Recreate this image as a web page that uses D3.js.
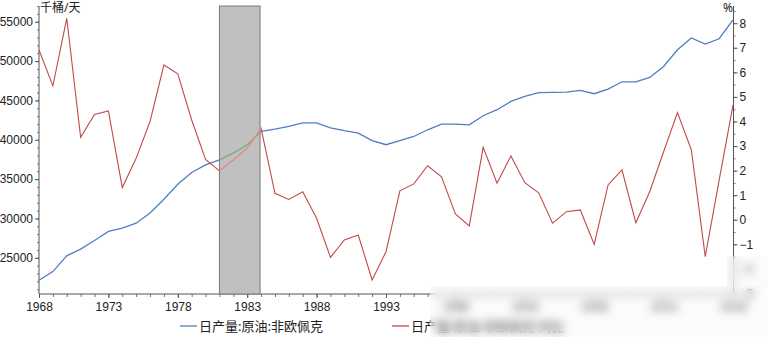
<!DOCTYPE html>
<html><head><meta charset="utf-8">
<script src="https://cdn.jsdelivr.net/npm/d3@7/dist/d3.min.js"></script>
<style>
html,body{margin:0;padding:0;background:#fff;}
#wrap{position:relative;width:768px;height:337px;overflow:hidden;}
svg{display:block;font-family:"Noto Sans","Noto Sans CJK SC",sans-serif;}
.blur{position:absolute;backdrop-filter:blur(5px);-webkit-backdrop-filter:blur(5px);background:rgba(240,240,240,0.2);}
</style></head>
<body><div id="wrap"><svg id="c" width="768" height="337"></svg>
<div class="blur" style="left:430px;top:286px;width:338px;height:51px;"></div>
<div class="blur" style="left:727px;top:256px;width:41px;height:32px;"></div>
</div>
<script>
const years = d3.range(1968, 2019);
const production = [22150,23250,25250,26100,27200,28350,28780,29400,30700,32450,34350,35850,36800,
  37450,38300,39350,41060,41350,41700,42150,42150,41500,41150,40850,39900,39370,39880,40420,41270,41990,
  41990,41900,43050,43820,44870,45510,45980,46020,46060,46270,45850,46440,47370,47370,47920,49320,
  51440,52930,52170,52840,55250];
const yoy = [6.91,5.45,8.20,3.36,4.29,4.43,1.31,2.50,4.00,6.30,5.94,4.06,2.46,
  1.99,2.43,2.91,3.72,1.08,0.83,1.14,0.06,-1.53,-0.82,-0.62,-2.45,-1.30,1.18,1.46,2.20,1.75,
  0.24,-0.25,2.95,1.49,2.60,1.51,1.10,-0.14,0.33,0.40,-1.00,1.42,2.03,-0.12,1.14,2.77,
  4.36,2.84,-1.50,1.60,4.67];
const xTicks = [1968,1973,1978,1983,1988,1993,1998,2003,2008,2013,2018];
const leftTicks = [25000,30000,35000,40000,45000,50000,55000];
const rightTicks = [-3,-2,-1,0,1,2,3,4,5,6,7,8];
const recession = [1981, 1984];
const seriesNames = ["日产量:原油:非欧佩克","日产量:原油:非欧佩克:同比"];
const unitLeft = "千桶/天", unitRight = "%";

const svg = d3.select("#c");
const x = d3.scaleLinear().domain([1968, 2018]).range([39, 733]);
const yL = d3.scaleLinear().domain([20400, 57000]).range([294, 6]);
const yR = d3.scaleLinear().domain([-3.02, 8.7]).range([294, 6]);
const blue = "#4f7fbf", red = "#c24a48";
const txt = "#222";

const lineL = d3.line().x((d,i)=>x(years[i])).y(d=>yL(d));
const lineR = d3.line().x((d,i)=>x(years[i])).y(d=>yR(d));

function styleAxis(g){
  g.select(".domain").attr("stroke","#555");
  g.selectAll(".tick line").attr("stroke","#555");
  g.selectAll(".tick text").attr("fill",txt).style("font-size","12px");
}
// minor ticks
svg.append("g").attr("transform","translate(39,0)")
  .call(d3.axisLeft(yL).tickValues(d3.range(21000,57001,1000)).tickSize(2).tickFormat(""))
  .call(g=>{g.select(".domain").remove(); g.selectAll("line").attr("stroke","#777");});
svg.append("g").attr("transform","translate(733.5,0)")
  .call(d3.axisRight(yR).tickValues(d3.range(-3,8.6,0.5)).tickSize(2).tickFormat(""))
  .call(g=>{g.select(".domain").remove(); g.selectAll("line").attr("stroke","#777");});
svg.append("g").attr("transform","translate(0,294)")
  .call(d3.axisBottom(x).tickValues(years).tickSize(3).tickFormat(""))
  .call(g=>{g.select(".domain").remove(); g.selectAll("line").attr("stroke","#777");});

svg.append("g").attr("transform","translate(39,0)")
  .call(d3.axisLeft(yL).tickValues(leftTicks).tickSize(4).tickPadding(2).tickFormat(d3.format("d")))
  .call(g=>g.select(".domain").attr("d","M0,6V294"))
  .call(styleAxis);
svg.append("g").attr("transform","translate(733.5,0)")
  .call(d3.axisRight(yR).tickValues(rightTicks).tickSize(4).tickPadding(2).tickFormat(d3.format("d")))
  .call(g=>g.select(".domain").attr("d","M0,6V294"))
  .call(styleAxis);
svg.append("g").attr("transform","translate(0,294)")
  .call(d3.axisBottom(x).tickValues(xTicks).tickSize(4).tickPadding(4).tickFormat(d3.format("d")))
  .call(g=>g.select(".domain").attr("d","M39,0H733.5"))
  .call(styleAxis);

svg.append("text").attr("x",40).attr("y",12).attr("fill",txt).style("font-size","12px").text(unitLeft);
svg.append("text").attr("x",733).attr("y",12).attr("text-anchor","end").attr("fill",txt).style("font-size","12px").text(unitRight);

svg.append("path").datum(production).attr("d",lineL).attr("fill","none").attr("stroke",blue).attr("stroke-width",1.3);
svg.append("path").datum(yoy).attr("d",lineR).attr("fill","none").attr("stroke",red).attr("stroke-width",1.1);

svg.append("rect").attr("x",x(recession[0])).attr("y",6).attr("width",x(recession[1])-x(recession[0])-1)
  .attr("height",288).attr("fill","#c0c0c0").attr("stroke","#7a7a7a").attr("stroke-width",1);
svg.append("clipPath").attr("id","rc").append("rect")
  .attr("x",x(recession[0])).attr("y",6).attr("width",x(recession[1])-x(recession[0])).attr("height",288);
const ins = svg.append("g").attr("clip-path","url(#rc)");
ins.append("path").datum(production).attr("d",lineL).attr("fill","none").attr("stroke","#79ad7c").attr("stroke-width",1.3);
ins.append("path").datum(yoy).attr("d",lineR).attr("fill","none").attr("stroke","#e58585").attr("stroke-width",1.3);

const leg = [{x:180, c:blue, t:seriesNames[0]},{x:392, c:red, t:seriesNames[1]}];
leg.forEach(l=>{
  svg.append("line").attr("x1",l.x).attr("x2",l.x+17).attr("y1",326).attr("y2",326).attr("stroke",l.c).attr("stroke-width",1.3);
  svg.append("text").attr("x",l.x+19).attr("y",331).attr("fill",txt).style("font-size","13px").text(l.t);
});
</script></body></html>
